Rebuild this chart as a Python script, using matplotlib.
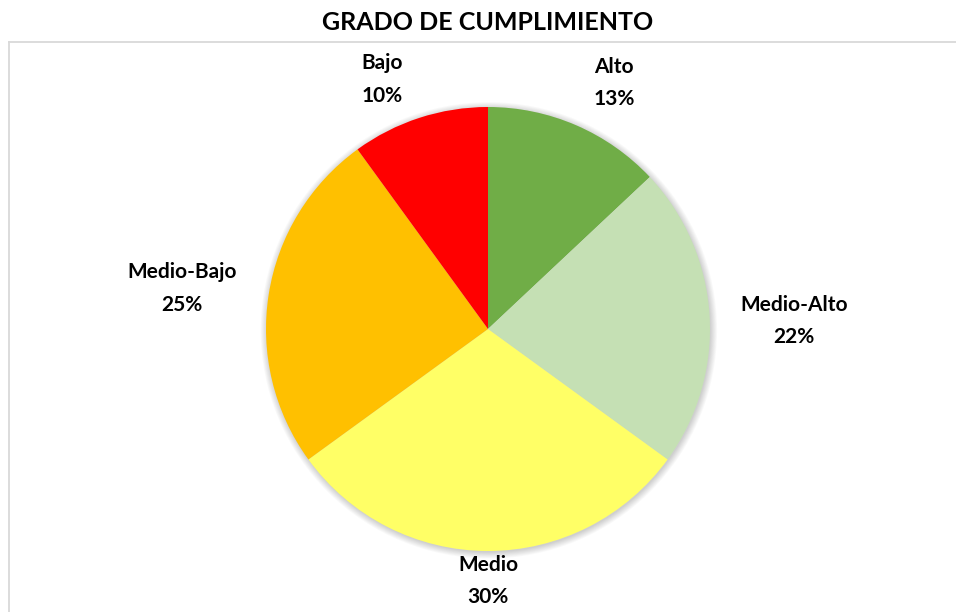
import numpy as np
import matplotlib
matplotlib.use("Agg")
import matplotlib.pyplot as plt
from matplotlib.patches import Circle
from matplotlib.lines import Line2D
from matplotlib import font_manager as fm

# Data
categories = ["Alto", "Medio-Alto", "Medio", "Medio-Bajo", "Bajo"]
values = [13, 22, 30, 25, 10]
colors = ["#70AD47", "#C5E0B4", "#FFFF66", "#FFC000", "#FF0000"]
title = "GRADO DE CUMPLIMIENTO"

# label placement (distance in radii, angle tweak in degrees)
label_dist = [1.245, 1.38, 1.135, 1.39, 1.22]
label_dang = [-3.7, -2.1, 0.0, 1.5, 5.0]

chosen = 'DejaVu Sans'
for fam in ['Lato', 'Open Sans', 'Noto Sans', 'Roboto', 'Liberation Sans']:
    try:
        p = fm.findfont(fm.FontProperties(family=fam, weight='bold'), fallback_to_default=False)
        if 'bold' in p.lower() or 'black' in p.lower() or 'heavy' in p.lower():
            chosen = fam
            break
    except Exception:
        pass
plt.rcParams['font.family'] = [chosen, 'DejaVu Sans']

W, H = 956, 612
fig = plt.figure(figsize=(W / 100, H / 100), dpi=100)

R = 222.0
cx, cy = 488.0, 329.0
Lx, Ly = 2.0, 1.4
ax = fig.add_axes([(cx - Lx * R) / W, (H - cy - Ly * R) / H, 2 * Lx * R / W, 2 * Ly * R / H])

# soft shadow
for i in range(8):
    ax.add_patch(Circle((0.004, -0.006), 1.0 + 0.004 * i, facecolor='black',
                        edgecolor='none', alpha=0.025, zorder=0))

wedges, _ = ax.pie(values, colors=colors, startangle=90, counterclock=False,
                   radius=1.0, wedgeprops=dict(linewidth=0, edgecolor='none'))
for w in wedges:
    w.set_zorder(2)
ax.set_xlim(-Lx, Lx)
ax.set_ylim(-Ly, Ly)
ax.set_aspect('equal')
ax.axis('off')

for w, cat, v, d, da in zip(wedges, categories, values, label_dist, label_dang):
    ang = np.deg2rad((w.theta1 + w.theta2) / 2 + da)
    x, y = d * np.cos(ang), d * np.sin(ang)
    ax.text(x, y, f"{cat}\n{v}%", ha='center', va='center', fontsize=15,
            fontweight='bold', color='black', linespacing=1.8, zorder=3)

fig.text(488 / W, 1 - 23 / H, title, ha='center', va='center', fontsize=18,
         fontweight='bold', color='black')

# chart frame (left and top edges visible)
fig.add_artist(Line2D([8.5 / W, 8.5 / W], [0, 1 - 42 / H], transform=fig.transFigure,
                      color='#D9D9D9', linewidth=1.3))
fig.add_artist(Line2D([8.5 / W, 1], [1 - 42 / H, 1 - 42 / H], transform=fig.transFigure,
                      color='#D9D9D9', linewidth=1.3))

fig.savefig("out.png", dpi=100, facecolor='white')
